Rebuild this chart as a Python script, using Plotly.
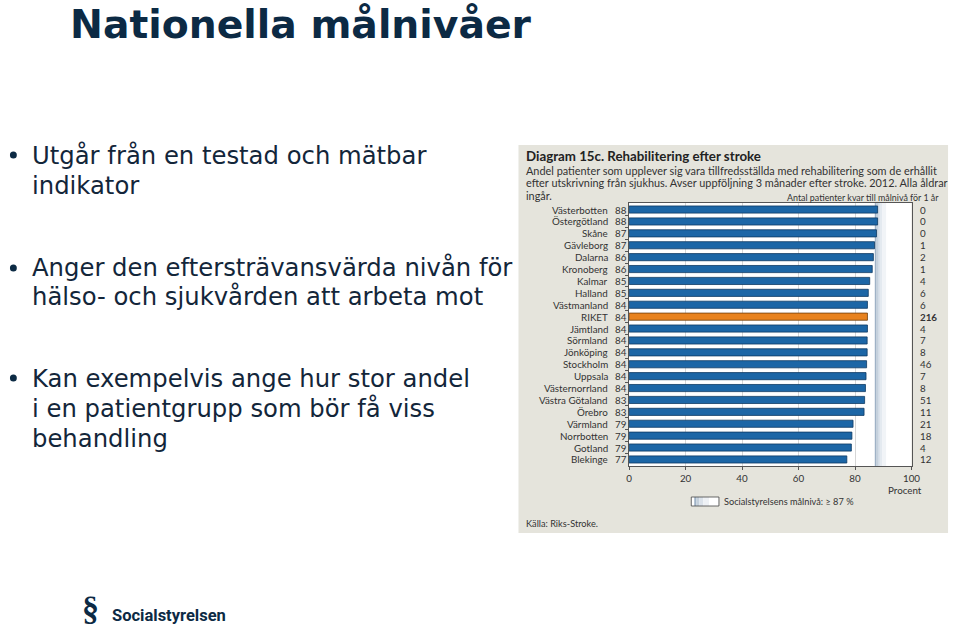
import plotly.graph_objects as go

# ---------------- data ----------------
regions = ["Västerbotten", "Östergötland", "Skåne", "Gävleborg", "Dalarna", "Kronoberg",
           "Kalmar", "Halland", "Västmanland", "RIKET", "Jämtland", "Sörmland", "Jönköping",
           "Stockholm", "Uppsala", "Västernorrland", "Västra Götaland", "Örebro", "Värmland",
           "Norrbotten", "Gotland", "Blekinge"]
pct = [88.0, 88.0, 87.6, 86.9, 86.5, 86.1, 85.2, 84.7, 84.4, 84.4, 84.4, 84.3, 84.3,
       84.1, 83.9, 83.7, 83.4, 83.2, 79.3, 78.9, 78.7, 77.1]
pct_label = [88, 88, 87, 87, 86, 86, 85, 85, 84, 84, 84, 84, 84, 84, 84, 84, 83, 83, 79, 79, 79, 77]
remaining = [0, 0, 0, 1, 2, 1, 4, 6, 6, 216, 4, 7, 8, 46, 7, 8, 51, 11, 21, 18, 4, 12]
x_ticks = [0, 20, 40, 60, 80, 100]
target = 87

slide_title = "Nationella målnivåer"
bullets = [
    ["Utgår från en testad och mätbar", "indikator"],
    ["Anger den eftersträvansvärda nivån för", "hälso- och sjukvården att arbeta mot"],
    ["Kan exempelvis ange hur stor andel", "i en patientgrupp som bör få viss", "behandling"],
]
chart_title = "Diagram 15c. Rehabilitering efter stroke"
chart_sub = ["Andel patienter som upplever sig vara tillfredsställda med rehabilitering som de erhållit",
             "efter utskrivning från sjukhus. Avser uppföljning 3 månader efter stroke. 2012. Alla åldrar",
             "ingår."]
right_header = "Antal patienter kvar till målnivå för 1 år"
legend_text = "Socialstyrelsens målnivå: ≥ 87 %"
source_text = "Källa: Riks-Stroke."

# ---------------- helpers ----------------
W, H = 960, 631
def px(x):
    return x / W
def py(y):
    return 1 - y / H

NAVY = "#0c2a44"
CFONT = "Lato, DejaVu Sans, sans-serif"
SFONT = "DejaVu Sans, sans-serif"

idx = list(range(len(regions)))
bar_colors = ["#e8821e" if r == "RIKET" else "#1c66a6" for r in regions]
edge_colors = ["#6e3d0c" if r == "RIKET" else "#0e3a63" for r in regions]

fig = go.Figure()
fig.add_trace(go.Bar(
    x=pct, y=idx, orientation="h", width=0.6,
    marker=dict(color=bar_colors, line=dict(color=edge_colors, width=0.8)),
    hoverinfo="skip", showlegend=False,
))

shapes = []
# chart panel background
shapes.append(dict(type="rect", xref="paper", yref="paper", x0=px(522), x1=px(957),
                   y0=py(533), y1=py(145), fillcolor="#e5e4dc", line=dict(width=0), layer="below"))
# white plot area
shapes.append(dict(type="rect", xref="paper", yref="paper", x0=px(634), x1=px(920),
                   y0=py(466), y1=py(203), fillcolor="white", line=dict(width=0), layer="below"))
# target zone gradient (shadow at the 87% line fading to white)
grad = [(0.0, 0.5, "#9fb2c6"), (0.5, 1.1, "#bccad8"), (1.1, 1.8, "#d3dde7"),
        (1.8, 2.7, "#e4eaf0"), (2.7, 4.0, "#f1f4f7")]
for a, b, c in grad:
    shapes.append(dict(type="rect", xref="x", yref="paper", x0=target + a, x1=target + b,
                       y0=py(466), y1=py(203), fillcolor=c, line=dict(width=0), layer="below"))
# legend swatch
lx0, lx1, ly0, ly1 = 697, 725, 497, 506
shapes.append(dict(type="rect", xref="paper", yref="paper", x0=px(lx0), x1=px(lx1),
                   y0=py(ly1), y1=py(ly0), fillcolor="white", line=dict(width=0), layer="above"))
lgrad = [(0, 3, "#ffffff"), (3, 5, "#9fb2c6"), (5, 8, "#c3cfdb"), (8, 12, "#dbe2ea"), (12, 18, "#eef1f5")]
for a, b, c in lgrad:
    shapes.append(dict(type="rect", xref="paper", yref="paper", x0=px(lx0 + a), x1=px(lx0 + b),
                       y0=py(ly1), y1=py(ly0), fillcolor=c, line=dict(width=0), layer="above"))
shapes.append(dict(type="rect", xref="paper", yref="paper", x0=px(lx0), x1=px(lx1),
                   y0=py(ly1), y1=py(ly0), fillcolor="rgba(0,0,0,0)",
                   line=dict(color="#444", width=0.8), layer="above"))
# bullet dots
bullet_y = [155, 268, 378]
for by in bullet_y:
    shapes.append(dict(type="circle", xref="paper", yref="paper", x0=px(7), x1=px(14),
                       y0=py(by + 3.5), y1=py(by - 3.5), fillcolor=NAVY, line=dict(width=0)))

ann = []
# slide title
ann.append(dict(text="<b>" + slide_title + "</b>", x=px(66), y=py(24), xref="paper", yref="paper",
                xanchor="left", yanchor="middle", showarrow=False,
                font=dict(family=SFONT, size=39.3, color=NAVY)))
# bullets
line_ys = [[155, 185], [268, 297], [378, 408, 438]]
for lines, ys in zip(bullets, line_ys):
    for t, yy in zip(lines, ys):
        ann.append(dict(text=t, x=px(27), y=py(yy), xref="paper", yref="paper",
                        xanchor="left", yanchor="middle", showarrow=False,
                        font=dict(family=SFONT, size=24.3, color="#13263a")))
# chart title & subtitle
ann.append(dict(text="<b>" + chart_title + "</b>", x=px(528), y=py(156), xref="paper", yref="paper",
                xanchor="left", yanchor="middle", showarrow=False,
                font=dict(family=CFONT, size=13.3, color="#222")))
for t, yy in zip(chart_sub, [170, 183, 195]):
    ann.append(dict(text=t, x=px(528), y=py(yy), xref="paper", yref="paper",
                    xanchor="left", yanchor="middle", showarrow=False,
                    font=dict(family=CFONT, size=10.9, color="#333")))
ann.append(dict(text=right_header, x=px(950), y=py(197), xref="paper", yref="paper",
                xanchor="right", yanchor="middle", showarrow=False,
                font=dict(family=CFONT, size=8.9, color="#333")))
# row labels
for i, (r, v, n) in enumerate(zip(regions, pct_label, remaining)):
    ann.append(dict(text=r, x=px(615), y=i, xref="paper", yref="y", xanchor="right",
                    yanchor="middle", showarrow=False, font=dict(family=CFONT, size=9.8, color="#333")))
    ann.append(dict(text=str(v), x=px(618), y=i, xref="paper", yref="y", xanchor="left",
                    yanchor="middle", showarrow=False, font=dict(family=CFONT, size=9.8, color="#333")))
    ntxt = "<b>" + str(n) + "</b>" if r == "RIKET" else str(n)
    ann.append(dict(text=ntxt, x=px(927), y=i, xref="paper", yref="y", xanchor="left",
                    yanchor="middle", showarrow=False, font=dict(family=CFONT, size=9.8, color="#333")))
# axis title, legend, source
ann.append(dict(text="Procent", x=px(913), y=py(490), xref="paper", yref="paper",
                xanchor="center", yanchor="middle", showarrow=False,
                font=dict(family=CFONT, size=9.8, color="#333")))
ann.append(dict(text=legend_text, x=px(728), y=py(501), xref="paper", yref="paper",
                xanchor="left", yanchor="middle", showarrow=False,
                font=dict(family=CFONT, size=9.2, color="#333")))
ann.append(dict(text=source_text, x=px(528), y=py(523), xref="paper", yref="paper",
                xanchor="left", yanchor="middle", showarrow=False,
                font=dict(family=CFONT, size=9.2, color="#333")))
# logo
ann.append(dict(text="<b>§</b>", x=px(89), y=py(608), xref="paper", yref="paper",
                xanchor="center", yanchor="middle", showarrow=False,
                font=dict(family="Liberation Serif, serif", size=34, color=NAVY)))
ann.append(dict(text="<b>Socialstyrelsen</b>", x=px(108), y=py(615), xref="paper", yref="paper",
                xanchor="left", yanchor="middle", showarrow=False,
                font=dict(family="Roboto, sans-serif", size=16.5, color=NAVY)))

fig.update_layout(
    width=W, height=H, margin=dict(l=0, r=0, t=0, b=0),
    paper_bgcolor="white", plot_bgcolor="rgba(0,0,0,0)",
    shapes=shapes, annotations=ann, bargap=0.4,
    xaxis=dict(domain=[px(634), px(920)], range=[0, 100], tickvals=x_ticks,
               showgrid=True, gridcolor="#d6d6d6", gridwidth=1, zeroline=False,
               showline=True, linecolor="#555", linewidth=1, mirror=True,
               ticks="outside", ticklen=3, tickcolor="#555",
               tickfont=dict(family=CFONT, size=9.8, color="#333")),
    yaxis=dict(domain=[py(466), py(203)], range=[len(regions) - 0.45, -0.55],
               showticklabels=False, showgrid=False, zeroline=False,
               showline=True, linecolor="#555", linewidth=1, mirror=True,
               tickvals=[i + 0.5 for i in range(len(regions) - 1)], ticks="outside",
               ticklen=3, tickcolor="#555"),
)

fig.write_html("out.html")
